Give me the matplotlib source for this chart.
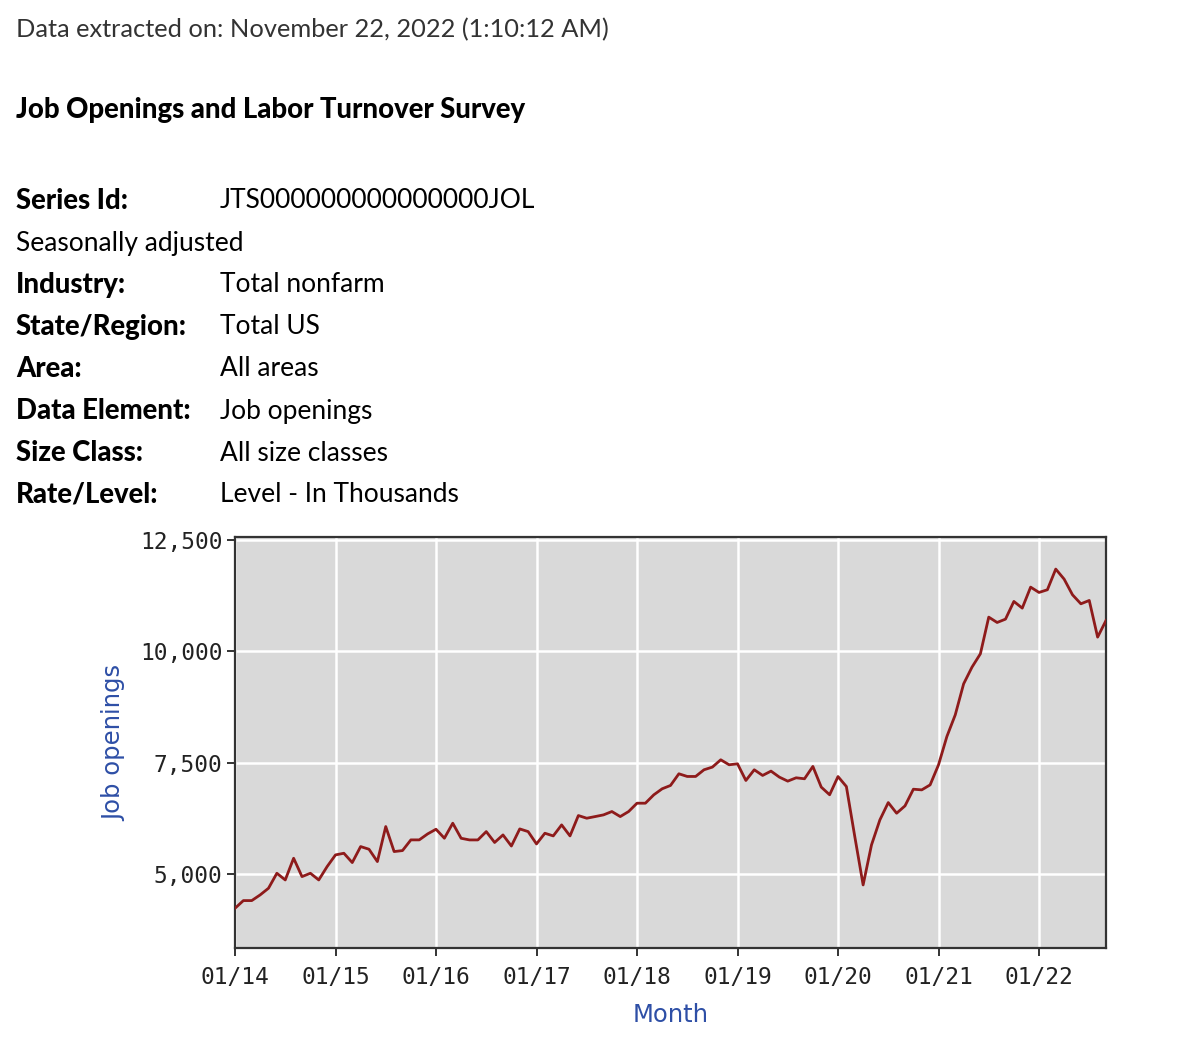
import matplotlib
matplotlib.use("Agg")
import matplotlib.pyplot as plt

# ---- data (thousands) Jan 2014 .. Sep 2022 ----
job_openings = [
    4236, 4409, 4409, 4536, 4686, 5022, 4872, 5359, 4947, 5022, 4872, 5172,   # 2014
    5434, 5471, 5262, 5621, 5561, 5284, 6070, 5509, 5531, 5771, 5771, 5905,   # 2015
    6010, 5808, 6145, 5807, 5770, 5770, 5957, 5713, 5882, 5633, 6017, 5957,   # 2016
    5680, 5920, 5860, 6107, 5860, 6317, 6257, 6294, 6332, 6407, 6294, 6407,   # 2017
    6594, 6594, 6781, 6917, 6992, 7254, 7194, 7194, 7344, 7404, 7568, 7456,   # 2018
    7478, 7104, 7344, 7217, 7314, 7179, 7089, 7164, 7142, 7419, 6955, 6783,   # 2019
    7192, 6968, 5850, 4760, 5658, 6219, 6608, 6369, 6534, 6908, 6893, 7005,   # 2020
    7454, 8090, 8576, 9272, 9647, 9946, 10769, 10649, 10724, 11121, 10971, 11442,  # 2021
    11323, 11383, 11847, 11622, 11270, 11068, 11143, 10320, 10694,           # 2022
]
x_tick_labels = ["01/14", "01/15", "01/16", "01/17", "01/18", "01/19", "01/20", "01/21", "01/22"]
y_ticks = [5000, 7500, 10000, 12500]

header = "Data extracted on: November 22, 2022 (1:10:12 AM)"
title = "Job Openings and Labor Turnover Survey"
rows = [
    ("Series Id:", "JTS000000000000000JOL"),
    ("Seasonally adjusted", None),
    ("Industry:", "Total nonfarm"),
    ("State/Region:", "Total US"),
    ("Area:", "All areas"),
    ("Data Element:", "Job openings"),
    ("Size Class:", "All size classes"),
    ("Rate/Level:", "Level - In Thousands"),
]

W, H = 1194, 1050
fig = plt.figure(figsize=(W / 100, H / 100), dpi=100)
fig.patch.set_facecolor("white")

def fx(px):
    return px / W

def fy(py):
    return 1 - py / H

TF = ["Lato", "DejaVu Sans"]
fs = 19.0
fsb = 19.8
fig.text(fx(16), fy(30), header, fontsize=18.3, family=TF, color="#333333", va="center", ha="left")
fig.text(fx(16), fy(110), title, fontsize=fsb, family=TF, color="black", fontweight=900, va="center", ha="left")
row_y = [201, 243, 285, 327, 369, 411, 453, 495]
for (lab, val), yy in zip(rows, row_y):
    if val is None:
        fig.text(fx(16), fy(yy), lab, fontsize=fs, family=TF, color="black", va="center", ha="left")
    else:
        fig.text(fx(16), fy(yy), lab, fontsize=fsb, family=TF, color="black", fontweight=900, va="center", ha="left")
        fig.text(fx(220), fy(yy), val, fontsize=fs, family=TF, color="black", va="center", ha="left")

# ---- chart ----
left, right, top, bottom = 235, 1106, 537, 948
ax = fig.add_axes([fx(left), 1 - bottom / H, (right - left) / W, (bottom - top) / H])
ax.set_facecolor("#d9d9d9")
x = list(range(len(job_openings)))
ax.plot(x, job_openings, color="#8e1b1b", linewidth=2.0, zorder=3)

ax.set_xlim(0, len(job_openings) - 1)
ax.set_ylim(3345, 12567)
ax.set_xticks([i * 12 for i in range(len(x_tick_labels))])
ax.set_xticklabels(x_tick_labels)
ax.set_yticks(y_ticks)
ax.set_yticklabels([f"{v:,}" for v in y_ticks])
ax.grid(True, color="white", linewidth=1.8, zorder=1)
ax.set_axisbelow(True)
for sp in ax.spines.values():
    sp.set_color("#333333")
    sp.set_linewidth(1.6)
ax.tick_params(axis="both", direction="out", length=6, width=1.4, color="#333333",
               labelsize=16.5, labelcolor="#222222")
ax.tick_params(axis="x", pad=7)
ax.tick_params(axis="y", pad=3)
for lab in ax.get_xticklabels() + ax.get_yticklabels():
    lab.set_family("DejaVu Sans Mono")

ax.set_xlabel("Month", fontsize=17.5, color="#2e4fa6", family="DejaVu Sans", labelpad=10)
ax.set_ylabel("Job openings", fontsize=17.5, color="#2e4fa6", family="DejaVu Sans", labelpad=10)

fig.savefig("out.png", dpi=100)
